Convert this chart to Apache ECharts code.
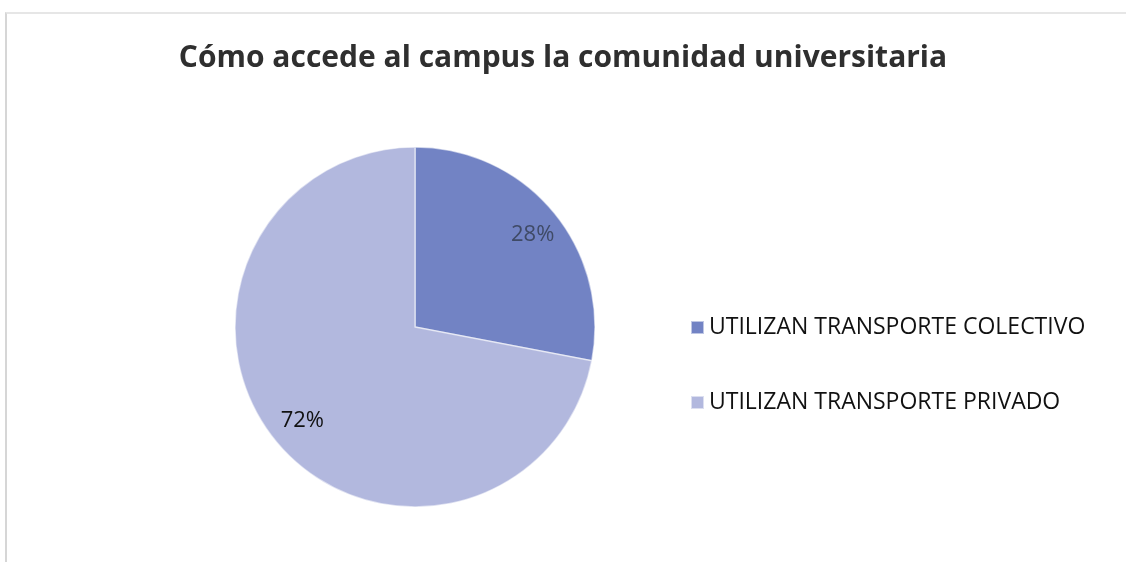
<!DOCTYPE html>
<html>
<head>
<meta charset="utf-8">
<script src="https://cdn.jsdelivr.net/npm/echarts@6/dist/echarts.min.js"></script>
<style>
  html, body { margin: 0; padding: 0; background: #fff; }
  #chart { position: absolute; left: 0; top: 0; width: 1126px; height: 562px; }
  #frame { position: absolute; left: 5px; top: 12px; width: 1121px; height: 550px;
    border-top: 2px solid #e6e6e6; border-left: 2px solid #d6d6d6; }
</style>
</head>
<body>
<div id="frame"></div>
<div id="chart"></div>
<script>
const titleText = 'Cómo accede al campus la comunidad universitaria'
const categories = ['UTILIZAN TRANSPORTE COLECTIVO', 'UTILIZAN TRANSPORTE PRIVADO']
const shares = [28, 72]
const colors = ['#7283c4', '#b2b8de']

// nudges for the in-slice labels (Excel "best fit" puts them further out)
const labelShift = [[46, -33], [-41, 34]]
const labelColors = ['#3f4a66', '#111']

const chart = echarts.init(document.getElementById('chart'))

chart.setOption({
  animation: false,
  title: {
    text: titleText,
    left: 'center',
    top: 38,
    textStyle: {
      fontFamily: 'Open Sans',
      fontWeight: 'bold',
      fontSize: 30,
      color: '#2f2f2f'
    }
  },
  legend: {
    orient: 'vertical',
    left: 685,
    top: 311,
    icon: 'rect',
    itemWidth: 13,
    itemHeight: 13,
    itemGap: 52,
    data: categories,
    textStyle: {
      fontFamily: 'Open Sans',
      fontSize: 23,
      color: '#111'
    }
  },
  series: [{
    type: 'pie',
    center: [415, 327],
    radius: 180,
    startAngle: 90,
    clockwise: true,
    silent: true,
    itemStyle: {
      borderColor: 'rgba(255,255,255,0.55)',
      borderWidth: 1.5
    },
    label: {
      show: true,
      position: 'inside',
      fontFamily: 'Open Sans',
      fontSize: 22,
      formatter: '{c}%'
    },
    labelLayout: function (params) {
      const s = labelShift[params.dataIndex]
      return { dx: s[0], dy: s[1] }
    },
    data: categories.map(function (name, i) {
      return {
        name: name,
        value: shares[i],
        itemStyle: { color: colors[i] },
        label: { color: labelColors[i] }
      }
    })
  }]
})
</script>
</body>
</html>
